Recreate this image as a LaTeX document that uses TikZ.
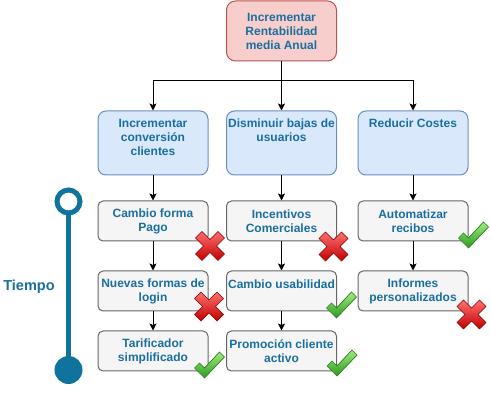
\documentclass[tikz,border=0pt]{standalone}
\usepackage{fontspec}
\setmainfont{Liberation Sans}
\usetikzlibrary{arrows.meta}
\definecolor{txtc}{HTML}{1A6FA0}
\definecolor{tlc}{HTML}{10739E}
\definecolor{redfill}{HTML}{F8CECC}
\definecolor{redline}{HTML}{B85450}
\definecolor{bluefill}{HTML}{DAE8FC}
\definecolor{blueline}{HTML}{6C8EBF}
\definecolor{greyfill}{HTML}{F5F5F5}
\definecolor{greyline}{HTML}{666666}
\definecolor{xtop}{HTML}{FF7070}
\definecolor{xbot}{HTML}{C00000}
\definecolor{xline}{HTML}{8B0000}
\definecolor{vtop}{HTML}{A0EC80}
\definecolor{vbot}{HTML}{2A9A1E}
\definecolor{vline}{HTML}{2F7A20}
\tikzset{
  lbl/.style={text=txtc, font=\bfseries\fontsize{12}{14}\selectfont, align=center, inner sep=0pt},
  topbox/.style={lbl, draw=redline, fill=redfill, rounded corners=9pt, minimum width=110pt, minimum height=60pt, line width=1pt},
  goalbox/.style={draw=blueline, fill=bluefill, rounded corners=8pt, minimum width=110pt, minimum height=64pt, line width=1pt, inner sep=0pt},
  taskbox/.style={lbl, draw=greyline, fill=greyfill, rounded corners=5pt, minimum width=110pt, minimum height=40pt, line width=1pt},
  arr/.style={draw=black, line width=1pt, -{Stealth[width=7pt,length=7pt,inset=1.5pt]}},
  xmark/.pic={
    \shadedraw[top color=xtop, bottom color=xbot, draw=xline, line width=0.7pt]
      (-8,-14.5) -- (0,-6.5) -- (8,-14.5) -- (14.5,-8) -- (6.5,0) -- (14.5,8) -- (8,14.5) -- (0,6.5)
      -- (-8,14.5) -- (-14.5,8) -- (-6.5,0) -- (-14.5,-8) -- cycle;
  },
  vmark/.pic={
    \shadedraw[top color=vtop, bottom color=vbot, draw=vline, line width=0.7pt]
      (-15,3) -- (-10,-2) -- (-5,3) -- (10,-13) -- (15,-8) -- (-5,13) -- cycle;
  }
}
\begin{document}
\begin{tikzpicture}[x=1pt,y=-1pt]
\useasboundingbox (0,0) rectangle (491,401);

% top goal
\node[topbox] (top) at (281.5,31) {Incrementar\\Rentabilidad\\media Anual};

% second row
\node[goalbox] (g1) at (153,143) {};
\node[goalbox] (g2) at (281.5,143) {};
\node[goalbox] (g3) at (413,143) {};
\node[lbl, anchor=north] (g1t) at (153,119) {Incrementar\\conversión\\clientes};
\node[lbl, anchor=north] (g2t) at (281.5,119) {Disminuir bajas de\\usuarios};
\node[lbl, anchor=north] (g3t) at (413,119) {Reducir Costes};

\coordinate (hub) at (281.5,81);
\draw[line width=1pt] (top.south) -- (hub);
\draw[arr] (hub) -| (g1.north);
\draw[arr] (hub) -- (g2.north);
\draw[arr] (hub) -| (g3.north);

% tasks
\node[taskbox] (t11) at (153,221) {Cambio forma\\Pago};
\node[taskbox] (t12) at (153,291) {Nuevas formas de\\login};
\node[taskbox] (t13) at (153,351) {Tarificador\\simplificado};
\node[taskbox] (t21) at (281.5,221) {Incentivos\\Comerciales};
\node[taskbox] (t22) at (281.5,291) {};
\node[lbl] (t22t) at (281.5,284) {Cambio usabilidad};
\node[taskbox] (t23) at (281.5,351) {Promoción cliente\\activo};
\node[taskbox] (t31) at (413,221) {Automatizar\\recibos};
\node[taskbox] (t32) at (413,291) {Informes\\personalizados};

\draw[arr] (g1.south) -- (t11.north);
\draw[arr] (t11.south) -- (t12.north);
\draw[arr] (t12.south) -- (t13.north);
\draw[arr] (g2.south) -- (t21.north);
\draw[arr] (t21.south) -- (t22.north);
\draw[arr] (t22.south) -- (t23.north);
\draw[arr] (g3.south) -- (t31.north);
\draw[arr] (t31.south) -- (t32.north);

% timeline
\node[circle, draw=tlc, fill=white, line width=5pt, minimum size=23pt, inner sep=0pt] (tstart) at (68.5,201.5) {};
\node[circle, fill=tlc, minimum size=28pt, inner sep=0pt] (tend) at (68.5,370) {};
\draw[tlc, line width=5pt] (tstart.south) -- (tend.north);
\node[text=txtc, font=\bfseries\fontsize{14.5}{17}\selectfont, inner sep=0pt] (tiempo) at (29,287) {Tiempo};

% status icons
\pic at (210,246) {xmark};
\pic at (209,306.5) {xmark};
\pic at (209.5,365) {vmark};
\pic at (333.5,246.5) {xmark};
\pic at (341.5,305) {vmark};
\pic at (342,363) {vmark};
\pic at (473.5,235) {vmark};
\pic at (471.5,314.5) {xmark};
\end{tikzpicture}
\end{document}
